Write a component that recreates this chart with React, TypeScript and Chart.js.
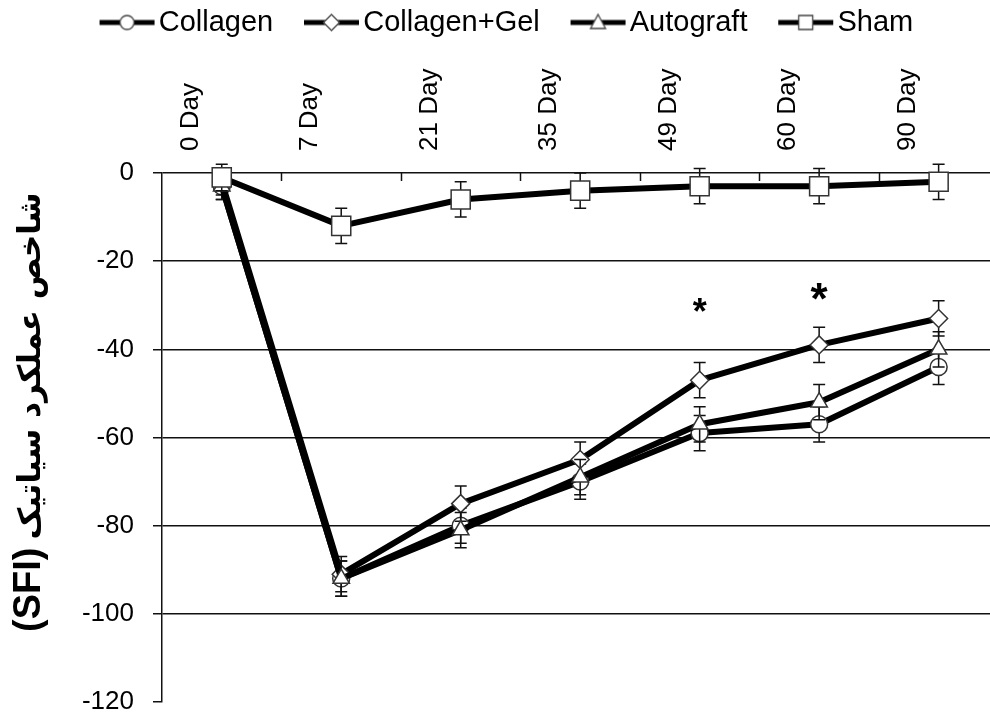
import React, { useEffect, useRef } from "react";
import { Chart, registerables } from "chart.js";

Chart.register(...registerables);

// ---- data ----
const DAYS = ["0 Day", "7 Day", "21 Day", "35 Day", "49 Day", "60 Day", "90 Day"];
const SERIES_NAMES = ["Collagen", "Collagen+Gel", "Autograft", "Sham"];
const COLLAGEN = [-3, -92, -80, -70, -59, -57, -44];
const COLLAGEN_GEL = [-2, -91, -75, -65, -47, -39, -33];
const AUTOGRAFT = [-3, -92, -81, -69, -57, -52, -40];
const SHAM = [-1, -12, -6, -4, -3, -3, -2];
const COLLAGEN_ERR = [3, 4, 4, 4, 4, 4, 4];
const COLLAGEN_GEL_ERR = [3, 4, 4, 4, 4, 4, 4];
const AUTOGRAFT_ERR = [3, 4, 4, 4, 4, 4, 4];
const SHAM_ERR = [3, 4, 4, 4, 4, 4, 4];
const Y_MIN = -120;
const Y_MAX = 0;
const Y_STEP = 20;
const SIG_DAY_INDEX = [4, 5];
const SIG_VALUE = [-31, -28];
const Y_TITLE_LATIN = "(SFI)";
const Y_TITLE_PERSIAN = "شاخص عملکرد سیاتیک";

const SERIES = [COLLAGEN, COLLAGEN_GEL, AUTOGRAFT, SHAM];
const ERRORS = [COLLAGEN_ERR, COLLAGEN_GEL_ERR, AUTOGRAFT_ERR, SHAM_ERR];
const STYLES = ["circle", "rectRot", "triangle", "rect"];
const RADII = [8.5, 9, 9.5, 13.5];
const ORDERS = [4, 3, 2, 1];
const SIG_SIZES = [36, 44];
const FONT = "'Liberation Sans', Arial, 'DejaVu Sans', sans-serif";

function makeIcon(style: string): HTMLCanvasElement {
  const c = document.createElement("canvas");
  c.width = 90;
  c.height = 24;
  const g = c.getContext("2d")!;
  g.strokeStyle = "#000";
  g.lineWidth = 5;
  g.beginPath();
  g.moveTo(34, 12);
  g.lineTo(89, 12);
  g.stroke();
  const cx = 61.5;
  const cy = 12;
  g.fillStyle = "#fff";
  g.strokeStyle = "#444";
  g.lineWidth = 1.3;
  g.beginPath();
  if (style === "circle") {
    g.arc(cx, cy, 7, 0, Math.PI * 2);
  } else if (style === "rectRot") {
    g.moveTo(cx, cy - 8);
    g.lineTo(cx + 8, cy);
    g.lineTo(cx, cy + 8);
    g.lineTo(cx - 8, cy);
    g.closePath();
  } else if (style === "triangle") {
    g.moveTo(cx, cy - 8);
    g.lineTo(cx + 7.5, cy + 6);
    g.lineTo(cx - 7.5, cy + 6);
    g.closePath();
  } else {
    g.rect(cx - 7, cy - 7, 14, 14);
  }
  g.fill();
  g.stroke();
  return c;
}

const errorBarPlugin = {
  id: "errorBars",
  beforeDatasetDraw(chart: any, args: any) {
    const idx = args.index;
    const errs = ERRORS[idx];
    const vals = SERIES[idx];
    const ys = chart.scales.y;
    const ctx = chart.ctx;
    ctx.save();
    ctx.strokeStyle = "#111";
    ctx.lineWidth = 1.5;
    args.meta.data.forEach((pt: any, i: number) => {
      const top = ys.getPixelForValue(vals[i] + errs[i]);
      const bot = ys.getPixelForValue(vals[i] - errs[i]);
      const x = pt.x;
      ctx.beginPath();
      ctx.moveTo(x, top);
      ctx.lineTo(x, bot);
      ctx.moveTo(x - 6, top);
      ctx.lineTo(x + 6, top);
      ctx.moveTo(x - 6, bot);
      ctx.lineTo(x + 6, bot);
      ctx.stroke();
    });
    ctx.restore();
  },
};

const axisMarksPlugin = {
  id: "axisMarks",
  beforeDatasetsDraw(chart: any) {
    const xs = chart.scales.x;
    const ys = chart.scales.y;
    const ctx = chart.ctx;
    const y0 = ys.getPixelForValue(Y_MAX);
    ctx.save();
    ctx.strokeStyle = "#111";
    ctx.lineWidth = 1.5;
    for (let i = 0; i < DAYS.length - 1; i++) {
      const x = Math.round(xs.getPixelForValue(i + 0.5)) + 0.5;
      ctx.beginPath();
      ctx.moveTo(x, y0);
      ctx.lineTo(x, y0 + 8);
      ctx.stroke();
    }
    ctx.restore();
  },
  afterDatasetsDraw(chart: any) {
    const xs = chart.scales.x;
    const ys = chart.scales.y;
    const ctx = chart.ctx;
    ctx.save();
    ctx.fillStyle = "#000";
    ctx.textAlign = "center";
    ctx.textBaseline = "alphabetic";
    SIG_DAY_INDEX.forEach((d, i) => {
      const size = SIG_SIZES[i];
      ctx.font = `bold ${size}px ${FONT}`;
      const x = xs.getPixelForValue(d);
      const y = ys.getPixelForValue(SIG_VALUE[i]);
      ctx.fillText("*", x, y + size * 0.4);
    });
    ctx.restore();
  },
};

// y-axis title drawn in two fonts (bold Latin part, Persian part), rotated
const yTitlePlugin = {
  id: "yTitle",
  afterDraw(chart: any) {
    const ctx = chart.ctx;
    const area = chart.chartArea;
    const startY = area.bottom - 70;
    ctx.save();
    ctx.translate(30, startY);
    ctx.rotate(-Math.PI / 2);
    ctx.fillStyle = "#000";
    ctx.textAlign = "left";
    ctx.textBaseline = "middle";
    ctx.font = `bold 38px ${FONT}`;
    ctx.fillText(Y_TITLE_LATIN, 0, 0);
    const w1 = ctx.measureText(Y_TITLE_LATIN).width;
    ctx.font = `bold 31px 'DejaVu Sans', sans-serif`;
    ctx.fillText(Y_TITLE_PERSIAN, w1 + 8, 2);
    ctx.restore();
  },
};

export default function App() {
  const ref = useRef<HTMLCanvasElement | null>(null);
  useEffect(() => {
    document.body.style.margin = "0";
    const canvas = ref.current;
    if (!canvas) return;
    const icons = STYLES.map((s) => makeIcon(s));
    const datasets = SERIES_NAMES.map((name, si) => ({
      label: name,
      data: DAYS.map((_, i) => ({ x: i, y: SERIES[si][i] })),
      borderColor: "#000",
      borderWidth: 6,
      borderJoinStyle: "round" as const,
      pointStyle: STYLES[si],
      pointRadius: RADII[si],
      pointHoverRadius: RADII[si],
      pointBackgroundColor: "#fff",
      pointBorderColor: "#333",
      pointBorderWidth: 1.5,
      tension: 0,
      clip: false as any,
      order: ORDERS[si],
    }));
    const chart = new Chart(canvas, {
      type: "line",
      data: { datasets },
      plugins: [errorBarPlugin, axisMarksPlugin, yTitlePlugin],
      options: {
        animation: false,
        responsive: false,
        devicePixelRatio: 1,
        layout: { autoPadding: false, padding: { left: 0, right: 0, top: 0, bottom: 16 } },
        plugins: {
          tooltip: { enabled: false },
          legend: {
            display: true,
            position: "top",
            labels: {
              usePointStyle: true,
              pointStyleWidth: 67.5,
              padding: 8,
              color: "#000",
              font: { size: 29, family: FONT },
              generateLabels: () =>
                SERIES_NAMES.map((name, i) => ({
                  text: name,
                  datasetIndex: i,
                  pointStyle: icons[i] as any,
                  fillStyle: "#fff",
                  strokeStyle: "#000",
                  lineWidth: 0,
                  hidden: false,
                  fontColor: "#000",
                })),
            },
          },
        },
        scales: {
          x: {
            type: "linear",
            position: "top",
            min: -0.5,
            max: 6.43,
            afterBuildTicks: (scale: any) => {
              scale.ticks = DAYS.map((_, i) => ({ value: i }));
            },
            afterFit: (scale: any) => {
              const lh = scale.chart.legend ? scale.chart.legend.height : 0;
              scale.height = 173 - lh;
              scale.paddingLeft = 0;
              scale.paddingRight = 0;
            },
            grid: { display: false, drawTicks: false },
            border: { display: false },
            ticks: {
              autoSkip: false,
              minRotation: 90,
              maxRotation: 90,
              padding: 22,
              color: "#000",
              font: { size: 26, family: FONT },
              callback: (v: any) => DAYS[v as number] ?? "",
            },
          },
          y: {
            type: "linear",
            min: Y_MIN,
            max: Y_MAX,
            afterFit: (scale: any) => {
              scale.width = 162;
              scale.paddingTop = 0;
              scale.paddingBottom = 0;
            },
            ticks: {
              stepSize: Y_STEP,
              padding: 19,
              color: "#000",
              font: { size: 26, family: FONT },
            },
            grid: {
              color: (c: any) =>
                c.tick && c.tick.value === Y_MIN ? "rgba(0,0,0,0)" : "#111",
              tickColor: "#111",
              tickLength: 9,
              lineWidth: 1.5,
            },
            border: { display: true, color: "#111", width: 1.5 },
            title: { display: false },
          },
        },
      },
    });
    return () => chart.destroy();
  }, []);
  return (
    <div style={{ width: 990, height: 718 }}>
      <canvas ref={ref} width={990} height={718} style={{ display: "block" }} />
    </div>
  );
}
